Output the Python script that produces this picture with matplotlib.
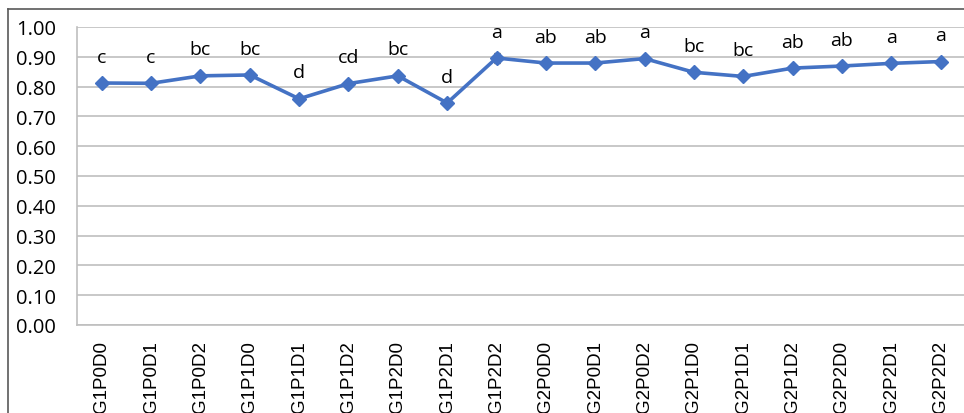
import matplotlib
matplotlib.use("Agg")
import matplotlib.pyplot as plt
from matplotlib.lines import Line2D
import numpy as np

# treatments and mean values
treatments = ["G1P0D0", "G1P0D1", "G1P0D2", "G1P1D0", "G1P1D1", "G1P1D2",
              "G1P2D0", "G1P2D1", "G1P2D2", "G2P0D0", "G2P0D1", "G2P0D2",
              "G2P1D0", "G2P1D1", "G2P1D2", "G2P2D0", "G2P2D1", "G2P2D2"]
means = [0.812, 0.811, 0.836, 0.839, 0.759, 0.810, 0.836, 0.745, 0.896,
         0.879, 0.879, 0.894, 0.848, 0.834, 0.862, 0.869, 0.878, 0.884]
errors = [0.004, 0.004, 0.010, 0.005, 0.012, 0.004, 0.010, 0.005, 0.016,
          0.004, 0.004, 0.005, 0.004, 0.004, 0.004, 0.004, 0.004, 0.004]
letters = ["c", "c", "bc", "bc", "d", "cd", "bc", "d", "a",
           "ab", "ab", "a", "bc", "bc", "ab", "ab", "a", "a"]

blue = "#4472C4"
grid_grey = "#BFBFBF"

fig = plt.figure(figsize=(9.64, 4.14), dpi=100)
ax = fig.add_axes([0.0799, 0.2126, 0.9215, 0.7198])

x = np.arange(len(treatments))
ax.errorbar(x, means, yerr=errors, fmt="none", ecolor="#222222",
            elinewidth=0.9, capsize=2.5, capthick=0.9, zorder=2)
ax.plot(x, means, color=blue, linewidth=2.6, marker="D", markersize=7.5,
        markerfacecolor=blue, markeredgecolor=blue, zorder=3)

for xi, m, lab in zip(x, means, letters):
    ax.annotate(lab, (xi, m), xytext=(0, 19), textcoords="offset points",
                ha="center", va="center", fontsize=14,
                family="Open Sans", color="black")

ax.set_xlim(-0.5, len(treatments) - 0.5)
ax.set_ylim(0, 1.0)
ax.set_yticks(np.arange(0, 1.01, 0.1))
ax.set_yticklabels([f"{v:.2f}" for v in np.arange(0, 1.01, 0.1)],
                   family="Open Sans", fontsize=14.5)
ax.set_xticks(x)
ax.set_xticklabels(treatments, rotation=90, family="Liberation Sans",
                   fontsize=13.5)
ax.tick_params(axis="both", length=0)
ax.tick_params(axis="y", pad=15)
ax.tick_params(axis="x", pad=11)

ax.grid(axis="y", color=grid_grey, linewidth=1.2)
ax.set_axisbelow(True)
for side in ["top", "right"]:
    ax.spines[side].set_visible(False)
for side in ["left", "bottom"]:
    ax.spines[side].set_color(grid_grey)
    ax.spines[side].set_linewidth(1.2)

# outer chart frame (top and left edges visible in the crop)
fig.add_artist(Line2D([0.0083, 1.0], [0.976, 0.976], color="#595959",
                      linewidth=1.2, transform=fig.transFigure))
fig.add_artist(Line2D([0.0083, 0.0083], [0.0, 0.976], color="#595959",
                      linewidth=1.2, transform=fig.transFigure))

fig.savefig("out.png", dpi=100)
